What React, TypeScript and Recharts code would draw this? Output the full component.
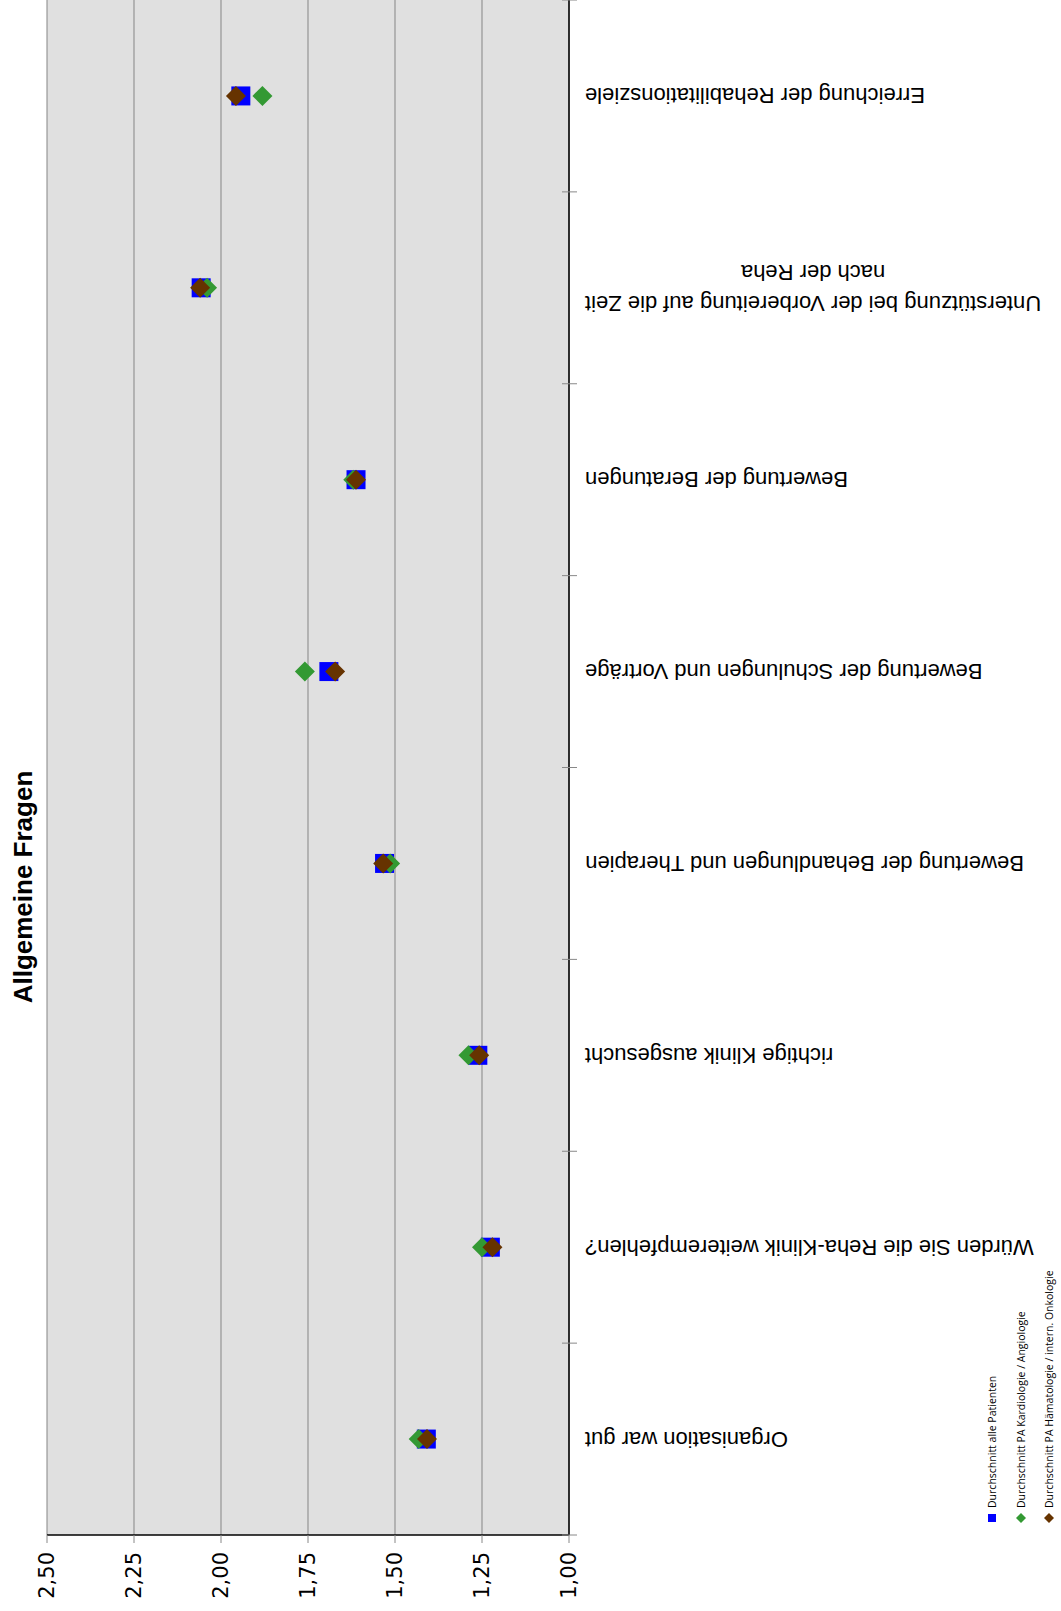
import React from 'react';
import { ScatterChart, Scatter, XAxis, YAxis, CartesianGrid } from 'recharts';

// the chart is drawn lying on its side and turned -90deg as a whole
const categories = [
  'Organisation war gut',
  'Würden Sie die Reha-Klinik weiterempfehlen?',
  'richtige Klinik ausgesucht',
  'Bewertung der Behandlungen und Therapien',
  'Bewertung der Schulungen und Vorträge',
  'Bewertung der Beratungen',
  'Unterstützung bei der Vorbereitung auf die Zeit\nnach der Reha',
  'Erreichung der Rehabilitationsziele',
];

const allePatienten = [1.41, 1.226, 1.262, 1.53, 1.69, 1.612, 2.057, 1.943];
const kardiologie = [1.432, 1.25, 1.289, 1.514, 1.759, 1.62, 2.04, 1.881];
const haematologie = [1.408, 1.22, 1.258, 1.534, 1.672, 1.612, 2.06, 1.957];

const valueTicks = [1, 1.25, 1.5, 1.75, 2, 2.25, 2.5];

const seriesNames = [
  'Durchschnitt alle Patienten',
  'Durchschnitt PA Kardiologie / Angiologie',
  'Durchschnitt PA Hämatologie / intern. Onkologie',
];
const seriesColors = ['#0000ff', '#339933', '#663300'];

const W = 1611;
const H = 1061;
const PLOT_LEFT = 76;
const PLOT_TOP = 47;
const PLOT_BOTTOM = 569;
const BAND = (W - PLOT_LEFT) / categories.length;
const LABEL_FONT = "22px 'Liberation Sans'";

let measureCtx: CanvasRenderingContext2D | null = null;
function textWidth(s: string) {
  if (!measureCtx) measureCtx = document.createElement('canvas').getContext('2d');
  if (!measureCtx) return s.length * 11;
  measureCtx.font = LABEL_FONT;
  return measureCtx.measureText(s).width;
}

const toPoints = (values: number[]) => values.map((v, i) => ({ x: i + 0.5, y: v, name: categories[i] }));

const Square = (props: any) => {
  const { cx, cy, fill } = props;
  return <rect x={cx - 9.5} y={cy - 9.5} width={19} height={19} fill={fill} />;
};

const Diamond = (props: any) => {
  const { cx, cy, fill } = props;
  const r = 10;
  return <polygon points={`${cx},${cy - r} ${cx + r},${cy} ${cx},${cy + r} ${cx - r},${cy}`} fill={fill} />;
};

const CategoryTick = (props: any) => {
  const { x, y, payload } = props;
  const idx = payload.value;
  const tickLine = <line x1={x} x2={x} y1={y - 7} y2={y + 8} stroke="#888" strokeWidth={1} />;
  if (idx >= categories.length) return <g>{tickLine}</g>;
  const lines = categories[idx].split('\n');
  const blockW = Math.max(...lines.map(textWidth));
  const cx = x + BAND / 2;
  return (
    <g>
      {tickLine}
      <g transform={`translate(${cx}, ${PLOT_BOTTOM + 16}) rotate(-90)`}>
        {lines.map((l, k) => (
          <text
            key={k}
            x={-blockW / 2}
            y={(k - (lines.length - 1) / 2) * 31}
            textAnchor="middle"
            dominantBaseline="central"
            style={{ font: LABEL_FONT, fill: '#000' }}
          >
            {l}
          </text>
        ))}
      </g>
    </g>
  );
};

const LegendMarker = ({ i }: { i: number }) => (
  <svg width={10} height={10} style={{ display: 'block' }}>
    {i === 0 ? (
      <rect x={1} y={1} width={8} height={8} fill={seriesColors[i]} />
    ) : (
      <polygon points="5,0 10,5 5,10 0,5" fill={seriesColors[i]} />
    )}
  </svg>
);

export default function App() {
  const series = [allePatienten, kardiologie, haematologie];
  const legendRows = [992, 1021, 1049];
  return (
    <div style={{ position: 'absolute', left: 0, top: 0, width: 1061, height: 1611, overflow: 'hidden', background: '#fff' }}>
      <div
        style={{
          position: 'absolute',
          left: 0,
          top: 0,
          width: W,
          height: H,
          transformOrigin: '0 0',
          transform: `translateY(${W}px) rotate(-90deg)`,
        }}
      >
        <ScatterChart width={W} height={H} margin={{ top: PLOT_TOP, right: 0, bottom: 0, left: 0 }}>
          <CartesianGrid vertical={false} stroke="#858585" fill="#e0e0e0" fillOpacity={1} />
          <XAxis
            type="number"
            dataKey="x"
            domain={[0, categories.length]}
            ticks={categories.map((_, i) => i).concat([categories.length])}
            interval={0}
            height={H - PLOT_BOTTOM}
            tickLine={false}
            tickSize={0}
            tickMargin={0}
            axisLine={{ stroke: '#000', strokeWidth: 1.5 }}
            tick={<CategoryTick />}
          />
          <YAxis
            type="number"
            dataKey="y"
            domain={[1, 2.5]}
            ticks={valueTicks}
            interval={0}
            width={PLOT_LEFT}
            tickSize={8}
            tickMargin={9}
            tickLine={{ stroke: '#888' }}
            axisLine={{ stroke: '#000', strokeWidth: 1.5 }}
            tick={{ fill: '#000', fontSize: 21, fontFamily: 'DejaVu Sans' }}
            tickFormatter={(v: number) => v.toFixed(2).replace('.', ',')}
          />
          <Scatter name={seriesNames[0]} data={toPoints(allePatienten)} fill={seriesColors[0]} shape={<Square />} isAnimationActive={false} />
          <Scatter name={seriesNames[1]} data={toPoints(kardiologie)} fill={seriesColors[1]} shape={<Diamond />} isAnimationActive={false} />
          <Scatter name={seriesNames[2]} data={toPoints(haematologie)} fill={seriesColors[2]} shape={<Diamond />} isAnimationActive={false} />
        </ScatterChart>

        <div
          style={{
            position: 'absolute',
            left: 0,
            top: 8,
            width: 1448,
            textAlign: 'center',
            font: "bold 26px 'Liberation Sans'",
            lineHeight: '30px',
            color: '#000',
          }}
        >
          Allgemeine Fragen
        </div>

        {series.map((_, i) => (
          <div
            key={i}
            style={{
              position: 'absolute',
              left: 88,
              top: legendRows[i] - 9,
              height: 18,
              display: 'flex',
              alignItems: 'center',
              gap: 5,
              font: "10.5px 'Open Sans'",
              color: '#000',
              whiteSpace: 'nowrap',
            }}
          >
            <LegendMarker i={i} />
            <span>{seriesNames[i]}</span>
          </div>
        ))}
      </div>
    </div>
  );
}
